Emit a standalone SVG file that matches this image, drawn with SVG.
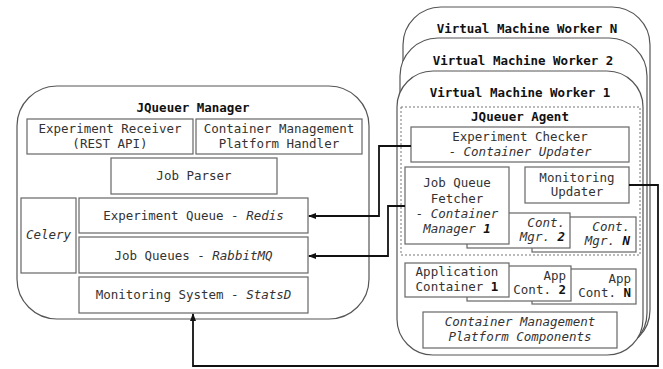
<svg xmlns="http://www.w3.org/2000/svg" width="663" height="369" viewBox="0 0 663 369">
<defs>
<style>
.box{fill:#fff;stroke:#666;stroke-width:1.2}
.outer{fill:#fff;stroke:#555;stroke-width:1.2}
.dash{fill:none;stroke:#777;stroke-width:1;stroke-dasharray:2,2}
text{font-family:"DejaVu Sans Mono","Liberation Mono",monospace;font-size:12.5px;fill:#333}
.t{font-weight:bold;fill:#111}
.c{text-anchor:middle}
.r{text-anchor:end}
.i{font-style:italic}
.b{font-weight:bold;fill:#111}
.conn{fill:none;stroke:#111;stroke-width:1.8}
</style>
<marker id="arr" markerWidth="8" markerHeight="6" refX="7" refY="3" orient="auto" markerUnits="userSpaceOnUse">
<path d="M0,0 L8,3 L0,6 z" fill="#111"/>
</marker>
</defs>

<g id="manager">
<rect class="outer" x="17" y="86" width="352" height="233" rx="40"/>
<text class="t c" x="193" y="112">JQueuer Manager</text>
</g>
<g id="experiment-receiver">
<rect class="box" x="27" y="119" width="166" height="35"/>
<text class="c" x="110" y="133">Experiment Receiver</text>
<text class="c" x="110" y="148">(REST API)</text>
</g>
<g id="cmp-handler">
<rect class="box" x="196" y="119" width="166" height="35"/>
<text class="c" x="279" y="133">Container Management</text>
<text class="c" x="279" y="148">Platform Handler</text>
</g>
<g id="job-parser">
<rect class="box" x="111" y="158" width="166" height="36"/>
<text class="c" x="194" y="180">Job Parser</text>
</g>
<g id="celery">
<rect class="box" x="21" y="198" width="55" height="75"/>
<text class="c i" x="48.5" y="239">Celery</text>
</g>
<g id="experiment-queue">
<rect class="box" x="79" y="198" width="229" height="35"/>
<text class="c" x="193.5" y="220">Experiment Queue - <tspan class="i">Redis</tspan></text>
</g>
<g id="job-queues">
<rect class="box" x="79" y="237" width="229" height="36"/>
<text class="c" x="193.5" y="260">Job Queues - <tspan class="i">RabbitMQ</tspan></text>
</g>
<g id="monitoring-system">
<rect class="box" x="79" y="277" width="229" height="36"/>
<text class="c" x="193.5" y="299">Monitoring System - <tspan class="i">StatsD</tspan></text>
</g>

<g id="worker-n">
<rect class="outer" x="403" y="7" width="247" height="341" rx="38"/>
<text class="t c" x="527" y="33">Virtual Machine Worker N</text>
</g>
<g id="worker-2">
<rect class="outer" x="400" y="38" width="247" height="313" rx="38"/>
<text class="t c" x="523" y="65">Virtual Machine Worker 2</text>
</g>
<g id="worker-1">
<rect class="outer" x="397" y="71" width="246" height="284" rx="36"/>
<text class="t c" x="520" y="97">Virtual Machine Worker 1</text>
</g>
<g id="agent">
<rect class="dash" x="401" y="107" width="239" height="148"/>
<text class="t c" x="520" y="121">JQueuer Agent</text>
</g>
<g id="experiment-checker">
<rect class="box" x="411" y="127" width="218" height="35"/>
<text class="c" x="520" y="141">Experiment Checker</text>
<text class="c" x="520" y="156">- <tspan class="i">Container Updater</tspan></text>
</g>
<g id="monitoring-updater">
<rect class="box" x="525" y="167" width="104" height="36"/>
<text class="c" x="577" y="182">Monitoring</text>
<text class="c" x="577" y="196">Updater</text>
</g>
<g id="cont-mgr-n">
<rect class="box" x="532" y="217" width="104" height="35"/>
<text class="r i" x="630" y="231">Cont.</text>
<text class="r i" x="630" y="245">Mgr. <tspan class="b">N</tspan></text>
</g>
<g id="cont-mgr-2">
<rect class="box" x="467" y="213" width="103" height="35"/>
<text class="r i" x="565" y="227">Cont.</text>
<text class="r i" x="565" y="241">Mgr. <tspan class="b">2</tspan></text>
</g>
<g id="job-queue-fetcher">
<rect class="box" x="405" y="167" width="104" height="77"/>
<text class="c" x="457" y="187">Job Queue</text>
<text class="c" x="457" y="203">Fetcher</text>
<text class="c" x="457" y="218">- <tspan class="i">Container</tspan></text>
<text class="c i" x="457" y="233">Manager <tspan class="b">1</tspan></text>
</g>
<g id="app-cont-n">
<rect class="box" x="532" y="269" width="104" height="35"/>
<text class="r" x="631" y="283">App</text>
<text class="r" x="631" y="297">Cont. <tspan class="b">N</tspan></text>
</g>
<g id="app-cont-2">
<rect class="box" x="467" y="266" width="104" height="35"/>
<text class="r" x="566" y="280">App</text>
<text class="r" x="566" y="294">Cont. <tspan class="b">2</tspan></text>
</g>
<g id="app-container-1">
<rect class="box" x="405" y="263" width="104" height="34"/>
<text class="c" x="457" y="276">Application</text>
<text class="c" x="457" y="291">Container <tspan class="b">1</tspan></text>
</g>
<g id="cmp-components">
<rect class="box" x="423" y="312" width="194" height="36"/>
<text class="c i" x="520" y="326">Container Management</text>
<text class="c i" x="520" y="341">Platform Components</text>
</g>

<g id="connectors">
<path class="conn" d="M411,146 H379 V216 H309" marker-end="url(#arr)"/>
<path class="conn" d="M405,206 H388 V256 H309" marker-end="url(#arr)"/>
<path class="conn" d="M629,185 H658 V366 H193 V314" marker-end="url(#arr)"/>
</g>
</svg>
